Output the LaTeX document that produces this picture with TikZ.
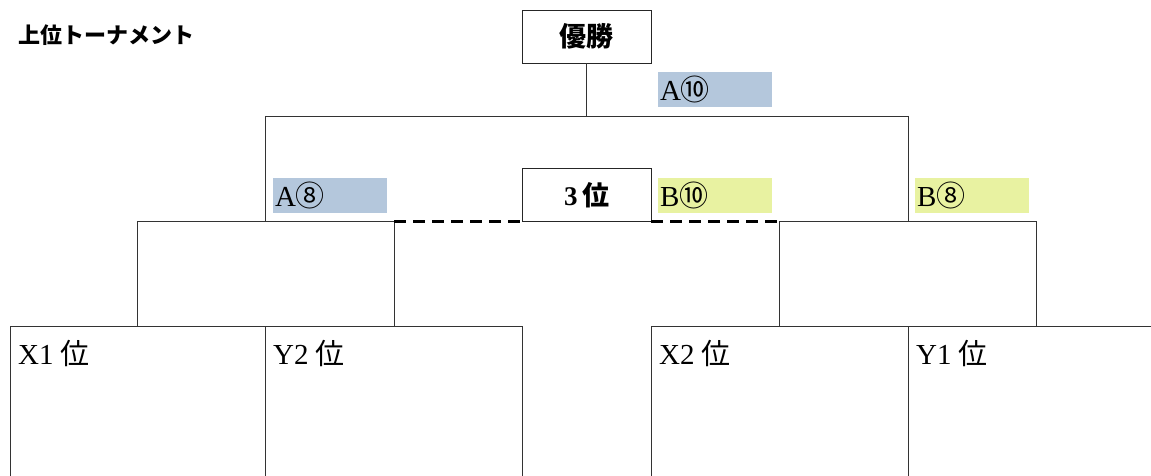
\documentclass[tikz,border=0pt]{standalone}
\usepackage{fontspec}
\setmainfont{Liberation Serif}
\newfontfamily\jp{Noto Sans CJK JP}
\definecolor{labblue}{HTML}{B4C7DC}
\definecolor{labyellow}{HTML}{E8F2A1}
\begin{document}
\begin{tikzpicture}[x=1pt,y=-1pt,
  line/.style={draw=black!80,line width=0.9pt},
  dline/.style={draw=black,line width=3pt,dash pattern=on 12pt off 7pt},
  topbox/.style={draw=black!85,line width=0.9pt,minimum width=129pt,minimum height=53pt,inner sep=0pt,font=\fontsize{27}{28}\selectfont\bfseries},
  lab/.style={minimum width=114pt,minimum height=35pt,text width=110pt,align=left,inner xsep=2pt,inner ysep=0pt,font=\fontsize{29}{30}\selectfont},
  slot/.style={anchor=base west,inner sep=0pt,font=\fontsize{29}{30}\selectfont}]
\useasboundingbox (0,0) rectangle (1151,476);
\node[anchor=west,inner sep=0pt,font=\jp\bfseries\fontsize{22}{22}\selectfont] (title) at (18,35) {上位トーナメント};
% boxes
\node[topbox] (win) at (586.5,36.5) {\jp 優勝};
\node[topbox] (third) at (586.5,195) {3\,{\jp 位}};
% labels
\node[lab,fill=labblue] (a10) at (715,89.5) {A{\jp ⑩}};
\node[lab,fill=labblue] (a8) at (330,195.5) {A{\jp ⑧}};
\node[lab,fill=labyellow] (b10) at (715,195.5) {B{\jp ⑩}};
\node[lab,fill=labyellow] (b8) at (972,195.5) {B{\jp ⑧}};
% coordinates
\coordinate (f) at (586.5,116);
\coordinate (fl) at (265,116);
\coordinate (fr) at (908,116);
\coordinate (sl) at (265,221);
\coordinate (sr) at (908,221);
\coordinate (ql1) at (137,221);
\coordinate (ql2) at (394,221);
\coordinate (qr1) at (779,221);
\coordinate (qr2) at (1036,221);
\coordinate (bl1) at (137,326);
\coordinate (bl2) at (394,326);
\coordinate (br1) at (779,326);
\coordinate (br2) at (1036,326);
% bracket
\draw[line] (win.south) -- (f);
\draw[line] (fl) -- (fr);
\draw[line] (fl) -- (sl);
\draw[line] (fr) -- (sr);
\draw[line] (ql1) -- (ql2);
\draw[line] (qr1) -- (qr2);
\draw[line] (ql1) -- (bl1);
\draw[line] (ql2) -- (bl2);
\draw[line] (qr1) -- (br1);
\draw[line] (qr2) -- (br2);
\draw[dline] (ql2) -- (ql2 -| third.west);
\draw[dline] (qr1 -| third.east) -- (qr1);
% bottom slots
\draw[line] (10,477) -- (10,326) -- (522,326) -- (522,477);
\draw[line] (265,326) -- (265,477);
\draw[line] (651,477) -- (651,326) -- (1152,326);
\draw[line] (908,326) -- (908,477);
\node[slot] (x1) at (18,364) {X1 {\jp 位}};
\node[slot] (y2) at (273,364) {Y2 {\jp 位}};
\node[slot] (x2) at (659,364) {X2 {\jp 位}};
\node[slot] (y1) at (916,364) {Y1 {\jp 位}};
\end{tikzpicture}
\end{document}
